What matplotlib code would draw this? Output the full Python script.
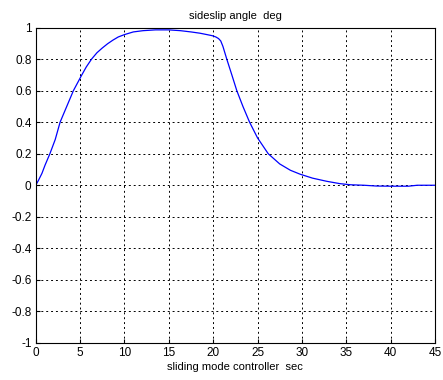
import numpy as np
import matplotlib.pyplot as plt

plt.rcParams['font.family'] = ['Liberation Sans', 'DejaVu Sans']

# sideslip response, read at a handful of instants (sec, deg)
t_sec = [0, 0.3, 0.7, 1.05, 1.6, 2.2, 2.75, 3.5, 4.25, 5.2, 5.7, 6.3, 6.9, 7.5, 8.1,
         8.7, 9.3, 10, 11, 12.1, 13.5, 15, 16.3, 17.5, 18.5, 19.3, 19.9, 20.3, 20.6,
         20.85, 21.1, 21.53, 22.1, 22.66, 23.35, 24.1, 25.0, 26.2, 27.5, 28.7, 29.8,
         31.2, 32.8, 34.3, 35.5, 37, 38.4, 40, 42, 43, 45]
beta = [0, 0.03, 0.075, 0.127, 0.2, 0.29, 0.40, 0.50, 0.60, 0.70, 0.75, 0.80, 0.84,
        0.87, 0.897, 0.92, 0.94, 0.955, 0.972, 0.98, 0.985, 0.985, 0.98, 0.972, 0.964,
        0.955, 0.948, 0.94, 0.93, 0.915, 0.88, 0.80, 0.70, 0.60, 0.50, 0.40, 0.30,
        0.20, 0.135, 0.095, 0.07, 0.045, 0.025, 0.01, 0.003, 0.0, -0.005, -0.006,
        -0.006, 0.0, 0.0]

fig = plt.figure(figsize=(4.43, 3.80), dpi=100)
ax = fig.add_axes([0.0806, 0.0974, 0.9014, 0.8302])

ax.plot(t_sec, beta, color='#0000ff', linewidth=0.9)

ax.set_xlim(0, 45)
ax.set_ylim(-1, 1)
ax.set_xticks(np.arange(0, 46, 5))
ax.set_yticks(np.round(np.arange(-1, 1.01, 0.2), 1))
ax.set_yticklabels(['-1', '-0.8', '-0.6', '-0.4', '-0.2', '0', '0.2', '0.4', '0.6', '0.8', '1'])
ax.grid(True, color='black', linestyle=(0, (2, 3)), linewidth=0.7)
ax.tick_params(direction='in', length=3, labelsize=8.5, pad=3)
for s in ax.spines.values():
    s.set_linewidth(0.8)

ax.set_title('sideslip angle  deg', fontsize=8, pad=6)
ax.set_xlabel('sliding mode controller  sec', fontsize=8, labelpad=2)

fig.savefig('out.png', dpi=100)
